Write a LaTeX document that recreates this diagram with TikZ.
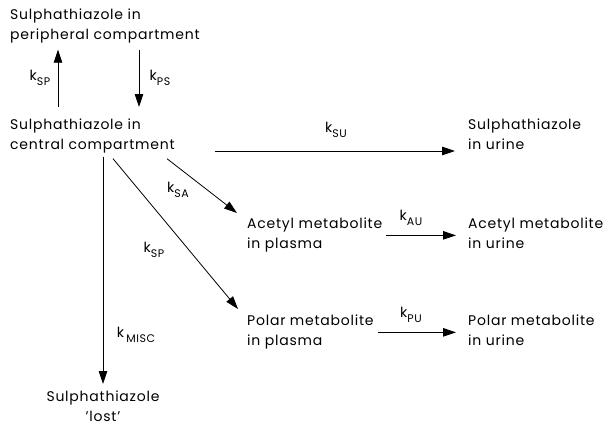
\documentclass[tikz,border=0pt]{standalone}
\usepackage{fontspec}
\setmainfont[LetterSpace=5.5]{Poppins}
\usepackage{tikz}
\usetikzlibrary{arrows.meta,calc}
\tikzset{
  cpt/.style={anchor=north west,align=left,inner sep=0pt,
      font=\fontsize{14}{20}\selectfont},
  flow/.style={-{Triangle[length=13pt,width=8.5pt]},line width=0.8pt},
  rate/.style={font=\fontsize{14}{15}\selectfont,inner sep=1pt},
}
\newcommand{\kr}[1]{k\raisebox{-0.7ex}{\fontsize{11}{11}\selectfont#1}}

\begin{document}
\begin{tikzpicture}[x=1pt,y=-1pt]
  \useasboundingbox (0,0) rectangle (605,428);

  % compartments
  \node[cpt] (per) at (10,9) {Sulphathiazole in\\peripheral compartment};
  \node[cpt] (cen) at (10,119) {Sulphathiazole in\\central compartment};
  \node[cpt] (urn) at (468,119) {Sulphathiazole\\in urine};
  \node[cpt] (acp) at (247,218) {Acetyl metabolite\\in plasma};
  \node[cpt] (acu) at (468,218) {Acetyl metabolite\\in urine};
  \node[cpt] (pop) at (247,315) {Polar metabolite\\in plasma};
  \node[cpt] (pou) at (468,315) {Polar metabolite\\in urine};
  \node[cpt,anchor=north,align=center] (lost) at (103,391) {Sulphathiazole\\'lost'};

  \coordinate (xsp) at (58,0);
  \coordinate (xps) at (139,0);
  \coordinate (ysu) at (0,151);

  % transfers
  \draw[flow] ($(cen.north -| xsp)+(0,-12)$) -- ($(per.south -| xsp)+(0,6)$);
  \draw[flow] ($(per.south -| xps)+(0,6)$) -- ($(cen.north -| xps)+(0,-12)$);
  \draw[flow,shorten <=40pt,shorten >=13pt] (cen.east |- ysu) -- (urn.west |- ysu);
  \draw[flow] ($(cen.south west)+(157,5)$) -- ($(acp.north west)+(-10,-5)$);
  \draw[flow] ($(cen.south west)+(103,5)$) -- ($(pop.north west)+(-9,-6)$);
  \draw[flow] ($(cen.south -| lost.north)+(0,3)$) -- ($(lost.north)+(0,-7)$);
  \draw[flow,shorten <=4pt,shorten >=12pt] (acp.east) -- (acp.east -| acu.west);
  \draw[flow,shorten <=4pt,shorten >=12pt] (pop.east) -- (pop.east -| pou.west);

  % rate constants
  \node[rate] (ksp) at (40,78) {\kr{SP}};
  \node[rate] (kps) at (160,78) {\kr{PS}};
  \node[rate] (ksu) at (336,130) {\kr{SU}};
  \node[rate] (ksa) at (178,190) {\kr{SA}};
  \node[rate] (kspb) at (154,250) {\kr{SP}};
  \node[rate] (kmisc) at (136,335) {k\,\raisebox{-0.7ex}{\fontsize{11}{11}\selectfont MISC}};
  \node[rate] (kau) at (411,218) {\kr{AU}};
  \node[rate] (kpu) at (411,315) {\kr{PU}};
\end{tikzpicture}
\end{document}
